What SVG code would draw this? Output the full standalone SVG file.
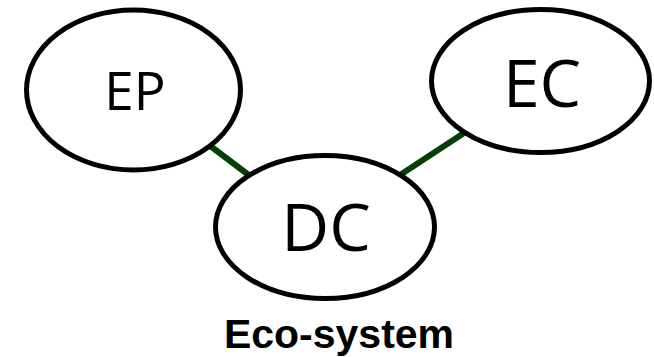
<svg xmlns="http://www.w3.org/2000/svg" width="654" height="357" viewBox="0 0 654 357">
  <style>
    .node ellipse { fill: #ffffff; stroke: #000000; stroke-width: 5; }
    .node text { font-family: "Open Sans", "Noto Sans", "DejaVu Sans", sans-serif; fill: #000000; text-anchor: middle; }
    .edge { stroke: #034003; stroke-width: 6; fill: none; }
    .caption { font-family: "Liberation Sans", Arial, sans-serif; font-weight: bold; font-size: 41px; fill: #000000; text-anchor: middle; }
  </style>
  <rect width="654" height="357" fill="#ffffff"/>
  <g id="connectors">
    <line class="edge" x1="209" y1="145" x2="250" y2="176"/>
    <line class="edge" x1="464" y1="133" x2="400" y2="175"/>
  </g>
  <g id="node-ep" class="node">
    <ellipse cx="133.5" cy="90" rx="107" ry="80"/>
    <text x="135" y="110" font-size="53">EP</text>
  </g>
  <g id="node-ec" class="node">
    <ellipse cx="540.5" cy="81" rx="109" ry="71.5"/>
    <text x="542" y="107" font-size="66">EC</text>
  </g>
  <g id="node-dc" class="node">
    <ellipse cx="325" cy="227" rx="109.5" ry="71.5"/>
    <text x="326" y="251" font-size="66">DC</text>
  </g>
  <text class="caption" x="339" y="348">Eco-system</text>
</svg>
